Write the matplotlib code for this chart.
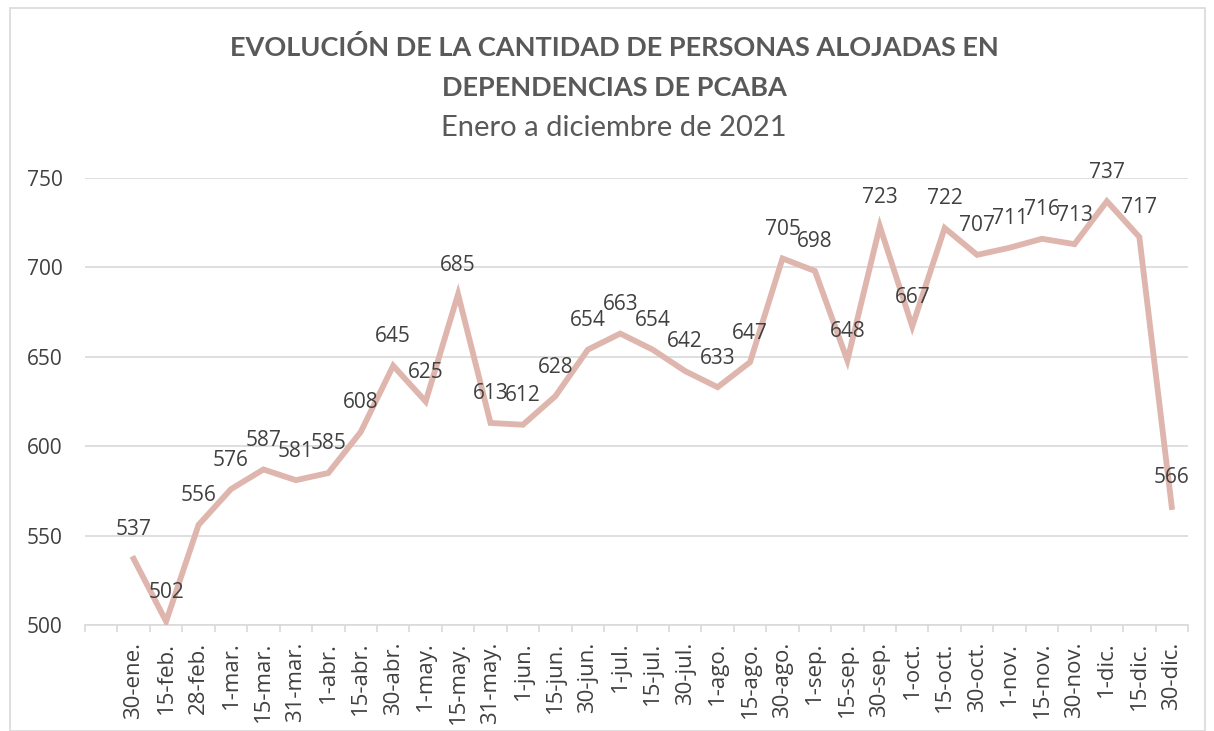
import matplotlib
matplotlib.use("Agg")
import matplotlib.pyplot as plt
from matplotlib.patches import Rectangle

categories = ["", "30-ene.", "15-feb.", "28-feb.", "1-mar.", "15-mar.", "31-mar.", "1-abr.",
              "15-abr.", "30-abr.", "1-may.", "15-may.", "31-may.", "1-jun.", "15-jun.",
              "30-jun.", "1-jul.", "15-jul.", "30-jul.", "1-ago.", "15-ago.", "30-ago.",
              "1-sep.", "15-sep.", "30-sep.", "1-oct.", "15-oct.", "30-oct.", "1-nov.",
              "15-nov.", "30-nov.", "1-dic.", "15-dic.", "30-dic."]
values = [None, 537, 502, 556, 576, 587, 581, 585, 608, 645, 625, 685, 613, 612, 628, 654,
          663, 654, 642, 633, 647, 705, 698, 648, 723, 667, 722, 707, 711, 716, 713,
          737, 717, 566]
yticks = [500, 550, 600, 650, 700, 750]

title = "EVOLUCIÓN DE LA CANTIDAD DE PERSONAS ALOJADAS EN\nDEPENDENCIAS DE PCABA"
subtitle = "Enero a diciembre de 2021"

W, H = 1214, 731
fig = plt.figure(figsize=(W / 100, H / 100), dpi=100)
ax = fig.add_axes([85 / W, 1 - 625 / H, (1188 - 85) / W, (625 - 178) / H])

fig.patches.append(Rectangle((10 / W, 0), (1205 - 10) / W, 1 - 8 / H,
                             transform=fig.transFigure, fill=False,
                             edgecolor="#d9d9d9", linewidth=1.2))

n = len(categories)
xs = [i for i, v in enumerate(values) if v is not None]
ys = [v for v in values if v is not None]
line_color = "#dfb6ae"
ax.plot(xs, ys, color=line_color, linewidth=4.2, solid_joinstyle="miter", zorder=3)

text_color = "#404040"
font = "Open Sans"
for x, y in zip(xs, ys):
    ax.annotate(str(y), (x, y), xytext=(0, 17), textcoords="offset points",
                ha="center", va="baseline", fontsize=15, color=text_color,
                family=font, zorder=4)

ax.set_xlim(-0.5, n - 0.5)
ax.set_ylim(500, 750)
ax.set_yticks(yticks)
ax.set_yticklabels([str(t) for t in yticks], fontsize=15, color=text_color, family=font)
ax.yaxis.grid(True, color="#d9d9d9", linewidth=1.2)
ax.set_axisbelow(True)
ax.tick_params(axis="y", length=0, pad=16)

ax.set_xticks(range(n))
ax.set_xticklabels(categories, rotation=90, fontsize=16, color=text_color, family=font)
ax.set_xticks([i - 0.5 for i in range(n + 1)], minor=True)
ax.tick_params(axis="x", which="major", length=0, pad=12)
ax.tick_params(axis="x", which="minor", length=5, color="#d9d9d9", width=1.2)

for s in ["top", "right", "left"]:
    ax.spines[s].set_visible(False)
ax.spines["bottom"].set_color("#d9d9d9")
ax.spines["bottom"].set_linewidth(1.2)

fig.text(614 / W, 1 - 67 / H, title, ha="center", va="center", fontsize=19.5,
         fontweight="bold", color="#595959", family="Lato", linespacing=1.8)
fig.text(614 / W, 1 - 128 / H, subtitle, ha="center", va="center", fontsize=21,
         color="#595959", family="Lato")

fig.savefig("out.png", dpi=100)
